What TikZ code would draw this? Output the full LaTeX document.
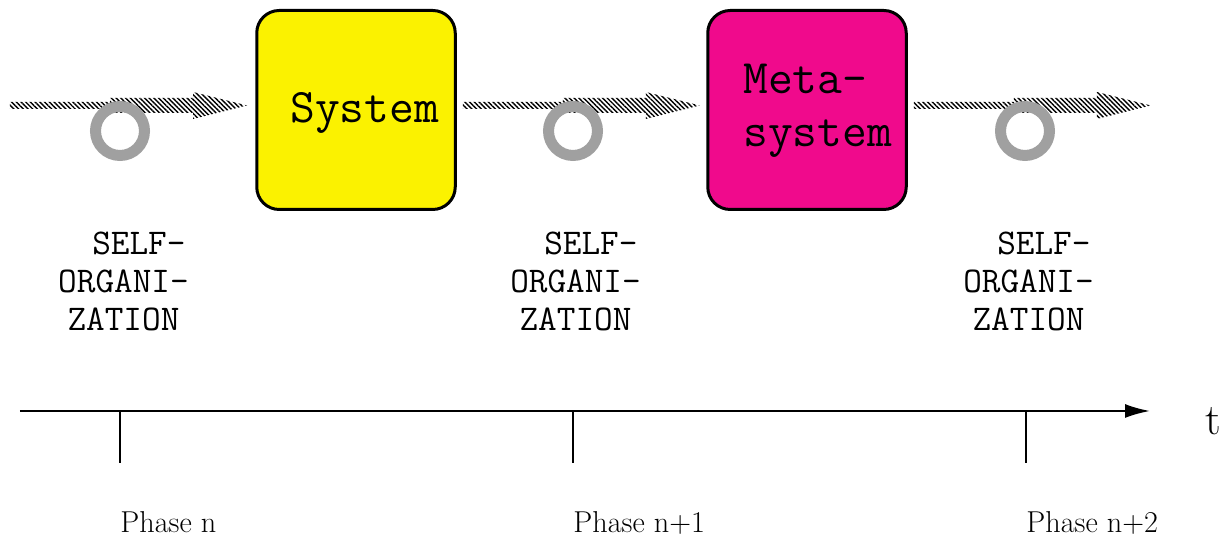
\documentclass[tikz,border=0pt]{standalone}
\usepackage{fontspec}
\usepackage{tikz}
\usetikzlibrary{arrows.meta, patterns.meta, positioning}
\definecolor{SysYellow}{RGB}{251, 242, 0}
\definecolor{MetaMagenta}{RGB}{240, 10, 140}
\definecolor{RingGray}{RGB}{160, 160, 160}

\begin{document}
\begin{tikzpicture}[
    box/.style={rectangle, draw, line width=0.06cm, rounded corners=0.45cm, minimum width=3.97cm, minimum height=3.98cm},
    boxtext/.style={font=\ttfamily\fontsize{27.4}{30.7}\selectfont, align=left, inner sep=0pt, anchor=base west},
    ring/.style={circle, draw=RingGray, line width=0.22cm, minimum size=0.98cm, inner sep=0pt},
    selforg/.style={font=\ttfamily\fontsize{20.6}{21.6}\selectfont, align=center, inner sep=0pt},
    phase/.style={font=\fontsize{17.2}{20}\selectfont, anchor=base west, inner sep=0pt},
    axis/.style={-{Latex[length=0.5cm, width=0.28cm]}, line width=0.04cm},
    tick/.style={line width=0.04cm},
    flow/.pic={\path[pattern={Lines[angle=-45, distance=1.9pt, line width=0.8pt]}]
        (0,-0.07) -- (2,-0.07) -- (2,-0.15) -- (3.66,-0.15) -- (3.66,-0.27) -- (4.74,0)
        -- (3.66,0.27) -- (3.66,0.15) -- (2,0.15) -- (2,0.07) -- (0,0.07) -- cycle;}
]
    \useasboundingbox (0,0) rectangle (24.58,10.78);
    % Systems
    \node[box, fill=SysYellow] (sys) at (7.12, 8.58) {};
    \node[box, fill=MetaMagenta] (meta) at (16.14, 8.58) {};
    \node[boxtext] (systxt) at (5.80, 8.32) {System};
    \node[boxtext] (metatxt) at (14.86, 7.84) {Meta-\\system};
    % Self-organization flows
    \coordinate (in) at (0.2, 8.67);
    \pic at (in) {flow};
    \pic at ([shift={(0.12,0.09)}]sys.east) {flow};
    \pic at ([shift={(0.12,0.09)}]meta.east) {flow};
    \foreach \x/\n in {2.4/1, 11.46/2, 20.5/3} { \node[ring] (ring\n) at (\x, 8.16) {}; }
    \foreach \x/\n in {2.47/1, 11.51/2, 20.57/3} {
        \node[selforg] (so\n) at (\x, 5.16) {\hspace*{0.85em}SELF-\\ORGANI-\\ZATION};
    }
    % Time axis
    \coordinate (t0) at (0.4, 2.56);
    \coordinate (t1) at (23.0, 2.56);
    \draw[axis] (t0) -- (t1);
    \node[font=\fontsize{25}{30}\selectfont, anchor=base, inner sep=0pt] (tlbl) at (24.27, 2.08) {t};
    \foreach \x/\n/\lbl in {2.4/1/n, 11.46/2/n+1, 20.52/3/n+2} {
        \coordinate (tick\n) at (\x, 2.56);
        \coordinate (tickend\n) at (\x, 1.52);
        \draw[tick] (tick\n) -- (tickend\n);
        \node[phase] (phase\n) at (\x, 0.12) {Phase \lbl};
    }
\end{tikzpicture}
\end{document}
